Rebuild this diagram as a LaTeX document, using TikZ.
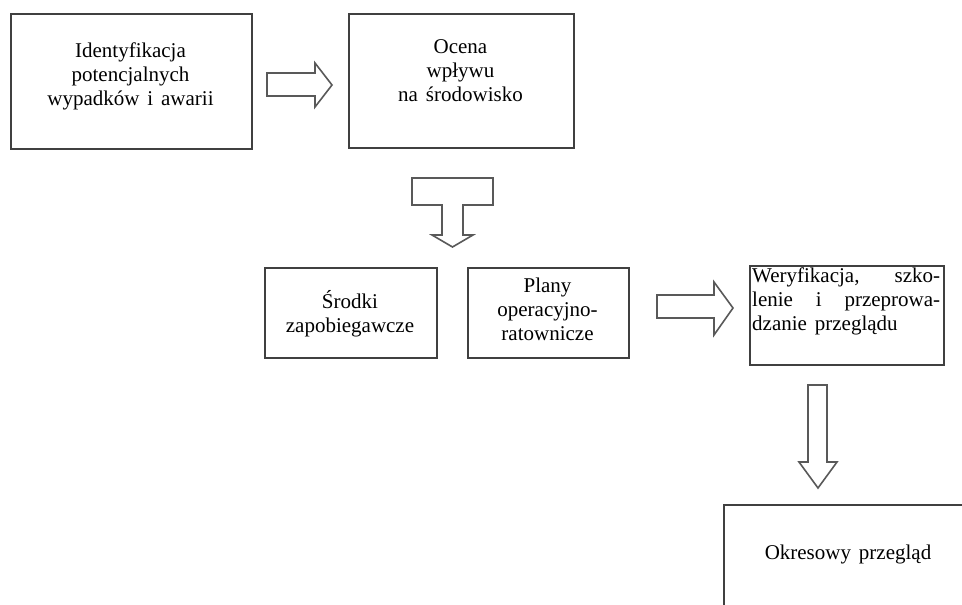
\documentclass[tikz,border=0pt]{standalone}
\usepackage{fontspec}
\setmainfont[WordSpace=1.5]{Liberation Serif}
\begin{document}
\begin{tikzpicture}[x=1pt,y=-1pt,
  box/.style={draw=black!75, line width=1.8pt, inner sep=0pt, align=center},
  blockarrow/.style={draw=black!65, line width=1.6pt, line join=miter, fill=white},
  txt/.style={font=\fontsize{21}{24}\selectfont, align=center, inner sep=0pt}]
\useasboundingbox (0,0) rectangle (962,605);
\clip (0,0) rectangle (962,605);
% boxes
\node[box, minimum width=241pt, minimum height=135pt, anchor=north west] (ident) at (10,13) {};
\node[txt] (identt) at (130.5,76) {Identyfikacja\\potencjalnych\\wypadków i awarii};
\node[box, minimum width=225pt, minimum height=134pt, anchor=north west] (ocena) at (348,13) {};
\node[txt] (ocenat) at (460.5,71) {Ocena\\wpływu\\na środowisko};
\node[box, minimum width=172pt, minimum height=90pt, anchor=north west] (srodki) at (264,267) {};
\node[txt] (srodkit) at (350,314) {Środki\\zapobiegawcze};
\node[box, minimum width=161pt, minimum height=90pt, anchor=north west] (plany) at (467,267) {};
\node[txt] (planyt) at (547.5,309) {Plany\\operacyjno-\\ratownicze};
\node[box, minimum width=194pt, minimum height=99pt, anchor=north west] (wer) at (749,265) {};
\node[txt, align=left, anchor=north west] (wert) at (752,268) {%
  \hbox to 188pt{Weryfikacja,\hfill szko-}\\
  \hbox to 188pt{lenie\hfill i\hfill przeprowa-}\\
  \hbox to 188pt{dzanie przeglądu\hfill}};
\node[box, minimum width=250pt, minimum height=140pt, anchor=north west] (okres) at (723,504) {};
\node[txt] (okrest) at (848,554) {Okresowy przegląd};
% block arrows
\draw[blockarrow] (267,73) -- (315,73) -- (315,63) -- (332,85) -- (315,107) -- (315,96) -- (267,96) -- cycle;
\draw[blockarrow] (412,178) -- (493,178) -- (493,205) -- (463,205) -- (463,235) -- (473,235) -- (452.5,247) -- (432,235) -- (442,235) -- (442,205) -- (412,205) -- cycle;
\draw[blockarrow] (657,295) -- (714,295) -- (714,282) -- (733,308) -- (714,335) -- (714,318) -- (657,318) -- cycle;
\draw[blockarrow] (808,385) -- (827,385) -- (827,462) -- (837,462) -- (818,488) -- (799,462) -- (808,462) -- cycle;
\end{tikzpicture}
\end{document}
